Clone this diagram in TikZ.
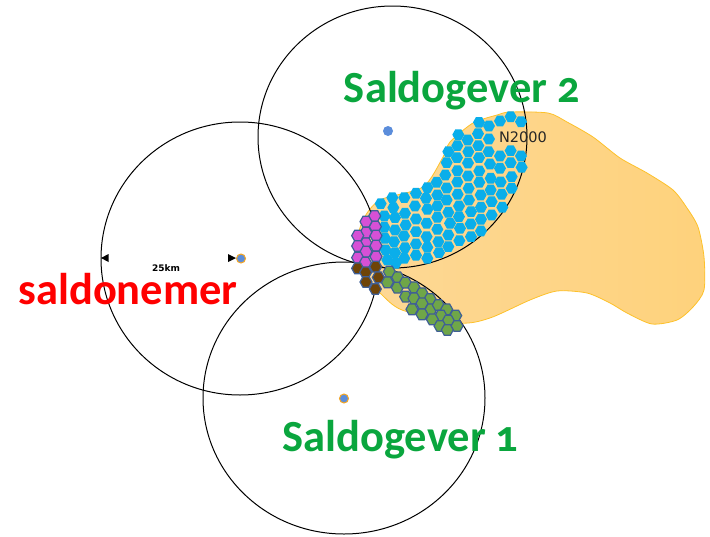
\documentclass[tikz,border=0pt]{standalone}
\usepackage{fontspec}
\setmainfont{Carlito}
\newfontfamily\labelfont[Numbers=OldStyle]{Carlito}
\newfontfamily\smallfont{DejaVu Sans}
\usetikzlibrary{shapes.geometric}
\definecolor{blobfillA}{HTML}{FDD896}
\definecolor{blobfillB}{HTML}{FED27C}
\definecolor{blobline}{HTML}{FDC12A}
\definecolor{hexblue}{HTML}{0AAEEA}
\definecolor{hexpink}{HTML}{D650D6}
\definecolor{hexbrown}{HTML}{6E4408}
\definecolor{hexgreen}{HTML}{6FA648}
\definecolor{hexedge}{HTML}{3F5F96}
\definecolor{dotblue}{HTML}{5B8DDB}
\definecolor{dotring}{HTML}{F5A623}
\definecolor{labelgreen}{HTML}{0AA63E}
\tikzset{
  rangecircle/.style={ellipse,draw=black,line width=1pt,inner sep=0pt},
  centredot/.style={circle,fill=dotblue,inner sep=0pt,minimum size=9pt},
  ringdot/.style={centredot,draw=dotring,line width=1pt},
  biglabel/.style={font=\labelfont\bfseries\fontsize{44.5}{44.5}\selectfont,inner sep=0pt,anchor=base},
  bluehex/.style={fill=hexblue},
  pinkhex/.style={fill=hexpink,draw=hexedge,line width=1.2pt},
  brownhex/.style={fill=hexbrown,draw=hexedge,line width=1.2pt},
  greenhex/.style={fill=hexgreen,draw=hexedge,line width=1.2pt},
  zoomA/.style={shift={(340,100)},x=0.3333pt,y=-0.3333pt},
  zoomB/.style={shift={(340,200)},x=0.3333pt,y=-0.3333pt},
}
\newcommand{\hexpath}[2]{(#1-18,#2) -- (#1-9,#2-16) -- (#1+9,#2-16) -- (#1+18,#2) -- (#1+9,#2+16) -- (#1-9,#2+16) -- cycle}
\begin{document}
\begin{tikzpicture}[x=1pt,y=-1pt]
\useasboundingbox (0,0) rectangle (710,536);
% N2000 area
\draw[blobline,line width=0.8pt,left color=blobfillA,right color=blobfillB]
  plot[smooth cycle,tension=0.45] coordinates {
  (510,112) (548,113) (567,122) (593,137) (620,158) (647,173) (673,190)
  (687,208) (698,227) (704,257) (704,290) (693,307) (677,320) (652,324)
  (627,313) (610,303) (587,293) (557,291) (530,300) (490,318) (460,323)
  (402,310) (380,293) (362,275) (355,250) (363,220) (380,200) (423,187)
  (443,157) (450,142) (473,123) (497,115)};
% circles
\node[rangecircle,minimum width=269pt,minimum height=262pt] (topcircle) at (392.5,137) {};
\node[rangecircle,minimum width=278pt,minimum height=273pt] (leftcircle) at (240,258.5) {};
\node[rangecircle,minimum width=282pt,minimum height=272pt] (bottomcircle) at (344,398) {};
% hexagons: blue
\begin{scope}[zoomA]
\foreach \x/\y in {417/67,447/78,480/63,512/50,543/65,355/104,414/101,447/117,383/120,
 352/137,415/137,446/155,385/155,325/155,512/152,480/168,543/168,417/173,351/173,
 320/188,384/189,450/192,512/188,480/205,545/202,418/213,352/212,316/225,384/228,452/235,515/230,482/246,
 290/247,352/246,320/264,418/247,386/265,452/270,515/265,485/283,
 262/263,228/280,193/293,157/293,122/311,258/295,292/285,320/300,353/283,387/300,422/285,455/305,487/322,
 160/323,225/318,262/328,292/318,357/318,423/322,455/345,393/335,325/337,
 133/348,165/353,195/340,228/357,260/370,292/352,357/350,330/370,423/358,
 133/382,165/390,197/375,228/395,260/410,292/388,360/385,392/372,423/393,325/405,393/410,358/422,
 135/415,162/425,192/408,228/432,262/442,295/425,325/440,297/458,
 137/450,165/458,195/443,228/466,262/475,193/475,142/480,167/490}
  \fill[bluehex] \hexpath{\x}{\y};
\foreach \x/\y in {104/348,78/365,106/380,78/398,108/407,53/407,78/430,108/437,53/438,78/455,108/470,53/473,76/488}
  \filldraw[pinkhex] \hexpath{\x}{\y};
\end{scope}
\begin{scope}[zoomB]
\foreach \x/\y in {148/215,173/232,142/247,172/263,196/248,222/262,197/290,246/280,270/297,222/295,216/328,246/310,273/328,246/343,295/315,320/328,347/347,303/347,325/362,277/358,300/378,351/378,322/390}
  \filldraw[greenhex] \hexpath{\x}{\y};
\foreach \x/\y in {53/205,77/217,107/200,115/232,78/246,106/267}
  \filldraw[brownhex] \hexpath{\x}{\y};
\end{scope}
% site dots
\node[centredot,minimum size=10pt] (topdot) at (388,131) {};
\node[ringdot] (leftdot) at (241,258.5) {};
\node[ringdot] (bottomdot) at (344,398.5) {};
% scale bar arrowheads
\fill[black] (101,258) -- (108.5,254) -- (108.5,262) -- cycle;
\fill[black] (236,258) -- (228,254) -- (228,262) -- cycle;
% labels
\node[font=\smallfont\bfseries\fontsize{9}{9}\selectfont,inner sep=0pt] (scale) at (166,268) {25km};
\node[font=\smallfont\fontsize{14.5}{14.5}\selectfont,text=black!85,inner sep=0pt] (n2000) at (523,137) {N2000};
\node[biglabel,text=labelgreen] (gever2) at (462,102) {Saldogever 2};
\node[biglabel,text=labelgreen] (gever1) at (400.5,451) {Saldogever 1};
\node[biglabel,text=red] (nemer) at (128,304) {saldonemer};
\end{tikzpicture}
\end{document}
